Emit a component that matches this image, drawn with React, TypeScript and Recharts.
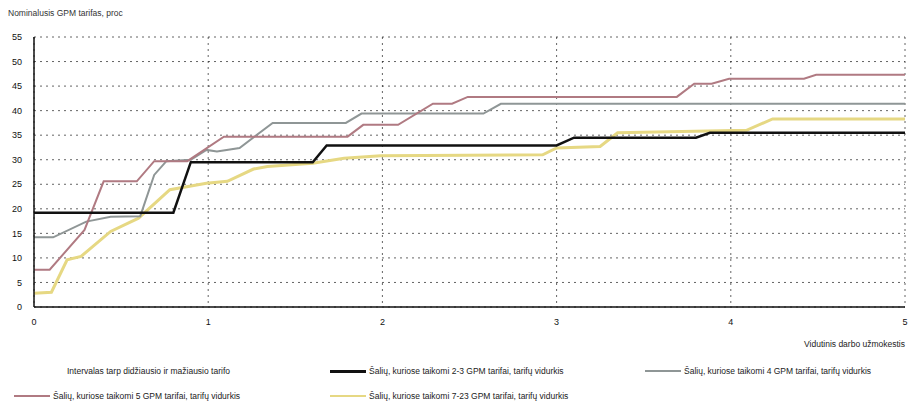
import { LineChart, Line, XAxis, YAxis, CartesianGrid } from 'recharts';

const xTicks = [0, 1, 2, 3, 4, 5];
const yTicks = [0, 5, 10, 15, 20, 25, 30, 35, 40, 45, 50, 55];

// [vidutinis darbo užmokestis, tarifas %]
const tariffs23 = [
  [0, 19.2], [0.8, 19.2], [0.9, 29.5], [1.6, 29.5], [1.68, 32.9], [3.0, 32.9],
  [3.1, 34.5], [3.8, 34.5], [3.88, 35.5], [5, 35.5],
];
const tariffs4 = [
  [0, 14.2], [0.11, 14.2], [0.3, 17.4], [0.44, 18.4], [0.61, 18.5], [0.69, 26.9],
  [0.76, 29.7], [0.9, 30], [0.99, 32], [1.05, 31.7], [1.18, 32.4], [1.37, 37.5],
  [1.79, 37.5], [1.88, 39.4], [2.58, 39.4], [2.68, 41.4], [5, 41.4],
];
const tariffs5 = [
  [0, 7.6], [0.09, 7.6], [0.29, 15.7], [0.4, 25.6], [0.59, 25.6], [0.69, 29.7],
  [0.88, 29.7], [1.09, 34.7], [1.8, 34.7], [1.89, 37.1], [2.09, 37.1], [2.29, 41.4],
  [2.4, 41.4], [2.49, 42.8], [3.69, 42.8], [3.79, 45.5], [3.89, 45.5], [3.99, 46.5],
  [4.42, 46.5], [4.49, 47.3], [5, 47.3],
];
const tariffs723 = [
  [0, 2.8], [0.1, 3], [0.19, 9.6], [0.27, 10.3], [0.44, 15.4], [0.6, 18.1],
  [0.78, 23.9], [0.99, 25.2], [1.11, 25.6], [1.26, 28.1], [1.34, 28.6], [1.6, 29.3],
  [1.78, 30.3], [1.99, 30.8], [2.92, 31], [3.0, 32.4], [3.25, 32.7], [3.35, 35.5],
  [4.09, 36], [4.24, 38.3], [5, 38.3],
];

const legendRow1 = [
  { name: 'Intervalas tarp didžiausio ir mažiausio tarifo', color: 'none', w: 0 },
  { name: 'Šalių, kuriose taikomi 2-3 GPM tarifai, tarifų vidurkis', color: '#111', w: 3 },
  { name: 'Šalių, kuriose taikomi 4 GPM tarifai, tarifų vidurkis', color: '#8f9696', w: 1.5 },
];
const legendRow2 = [
  { name: 'Šalių, kuriose taikomi 5 GPM tarifai, tarifų vidurkis', color: '#b07a82', w: 1.5 },
  { name: 'Šalių, kuriose taikomi 7-23 GPM tarifai, tarifų vidurkis', color: '#e6d883', w: 2.5 },
];

const toPts = (arr: number[][]) => arr.map(([x, y]) => ({ x, y }));
const font = "'Liberation Sans', Arial, sans-serif";

function LegendItem({ item, left, top }: { item: any; left: number; top: number }) {
  return (
    <div style={{ position: 'absolute', left, top, display: 'flex', alignItems: 'center', fontSize: 8.5, color: '#222' }}>
      <div style={{ width: 36, height: item.w, background: item.color === 'none' ? 'transparent' : item.color, marginRight: 3 }} />
      <span>{item.name}</span>
    </div>
  );
}

export default function App() {
  return (
    <div style={{ position: 'absolute', left: 0, top: 0, width: 913, height: 408, background: '#fff', fontFamily: font }}>
      <div style={{ position: 'absolute', left: 8, top: 8, fontSize: 8.5, color: '#333' }}>Nominalusis GPM tarifas, proc</div>
      <LineChart width={913} height={408} data={[]} margin={{ top: 37, right: 8, left: 0, bottom: 71 }}>
        <CartesianGrid stroke="#222" strokeDasharray="2 4" strokeOpacity={0.7} />
        <XAxis
          type="number"
          dataKey="x"
          domain={[0, 5]}
          ticks={xTicks}
          axisLine={{ stroke: '#111', strokeWidth: 1.5 }}
          tickLine={false}
          tickMargin={6}
          height={30}
          tick={{ fontSize: 9, fill: '#111', fontFamily: font }}
        />
        <XAxis xAxisId="top" orientation="top" type="number" domain={[0, 5]} tick={false} tickLine={false} height={0} axisLine={{ stroke: '#111', strokeWidth: 1.5 }} />
        <YAxis
          type="number"
          domain={[0, 55]}
          ticks={yTicks}
          axisLine={{ stroke: '#111', strokeWidth: 1.5 }}
          tickLine={false}
          tickMargin={6}
          width={34}
          tick={{ fontSize: 9, fill: '#111', fontFamily: font }}
        />
        <YAxis yAxisId="right" orientation="right" domain={[0, 55]} tick={false} tickLine={false} width={0} axisLine={{ stroke: '#111', strokeWidth: 1.5 }} />
        <Line data={toPts(tariffs723)} dataKey="y" type="linear" stroke="#e6d883" strokeWidth={3} dot={false} isAnimationActive={false} />
        <Line data={toPts(tariffs4)} dataKey="y" type="linear" stroke="#8f9696" strokeWidth={2} dot={false} isAnimationActive={false} />
        <Line data={toPts(tariffs5)} dataKey="y" type="linear" stroke="#b07a82" strokeWidth={2} dot={false} isAnimationActive={false} />
        <Line data={toPts(tariffs23)} dataKey="y" type="linear" stroke="#111" strokeWidth={2.5} dot={false} isAnimationActive={false} />
      </LineChart>
      <div style={{ position: 'absolute', right: 8, top: 339, fontSize: 8.5, color: '#222' }}>Vidutinis darbo užmokestis</div>
      <LegendItem item={legendRow1[0]} left={28} top={366} />
      <LegendItem item={legendRow1[1]} left={330} top={366} />
      <LegendItem item={legendRow1[2]} left={645} top={366} />
      <LegendItem item={legendRow2[0]} left={14} top={391} />
      <LegendItem item={legendRow2[1]} left={330} top={391} />
    </div>
  );
}
